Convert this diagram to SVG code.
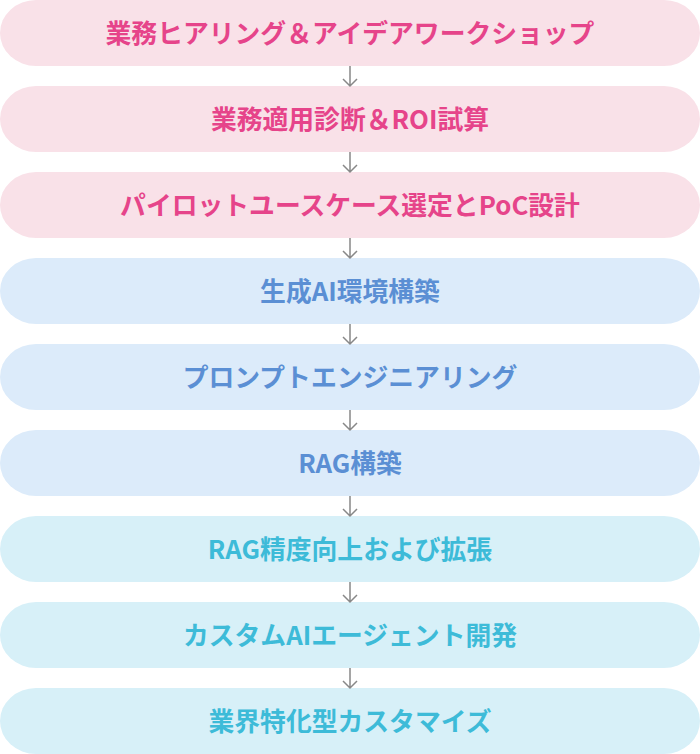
<svg xmlns="http://www.w3.org/2000/svg" width="700" height="754" viewBox="0 0 700 754">
<style>
.t{font-family:"Noto Sans CJK JP","Noto Sans",sans-serif;font-weight:700;font-size:25.8px;text-anchor:middle}
.pk rect{fill:#f9e1e8}.pk text{fill:#e6448a}
.bl rect{fill:#dcebfa}.bl text{fill:#5b8fd4}
.cy rect{fill:#d7f0f8}.cy text{fill:#3dbbd8}
.c{stroke:#888;stroke-width:1.5;fill:none}
</style>
<g id="n1" class="pk"><rect x="0" y="0" width="700" height="66" rx="36" ry="33"/><text class="t" x="350" y="43">業務ヒアリング＆アイデアワークショップ</text></g>
<g id="n2" class="pk"><rect x="0" y="86" width="700" height="66" rx="36" ry="33"/><text class="t" x="350" y="129">業務適用診断＆ROI試算</text></g>
<g id="n3" class="pk"><rect x="0" y="172" width="700" height="66" rx="36" ry="33"/><text class="t" x="350" y="215">パイロットユースケース選定とPoC設計</text></g>
<g id="n4" class="bl"><rect x="0" y="258" width="700" height="66" rx="36" ry="33"/><text class="t" x="350" y="301">生成AI環境構築</text></g>
<g id="n5" class="bl"><rect x="0" y="344" width="700" height="66" rx="36" ry="33"/><text class="t" x="350" y="387">プロンプトエンジニアリング</text></g>
<g id="n6" class="bl"><rect x="0" y="430" width="700" height="66" rx="36" ry="33"/><text class="t" x="350" y="473">RAG構築</text></g>
<g id="n7" class="cy"><rect x="0" y="516" width="700" height="66" rx="36" ry="33"/><text class="t" x="350" y="559">RAG精度向上および拡張</text></g>
<g id="n8" class="cy"><rect x="0" y="602" width="700" height="66" rx="36" ry="33"/><text class="t" x="350" y="645">カスタムAIエージェント開発</text></g>
<g id="n9" class="cy"><rect x="0" y="688" width="700" height="66" rx="36" ry="33"/><text class="t" x="350" y="731">業界特化型カスタマイズ</text></g>
<g id="connectors" class="c">
<path d="M350 66V86M343 79L350 86L357 79"/>
<path d="M350 152V172M343 165L350 172L357 165"/>
<path d="M350 238V258M343 251L350 258L357 251"/>
<path d="M350 324V344M343 337L350 344L357 337"/>
<path d="M350 410V430M343 423L350 430L357 423"/>
<path d="M350 496V516M343 509L350 516L357 509"/>
<path d="M350 582V602M343 595L350 602L357 595"/>
<path d="M350 668V688M343 681L350 688L357 681"/>
</g>
</svg>
